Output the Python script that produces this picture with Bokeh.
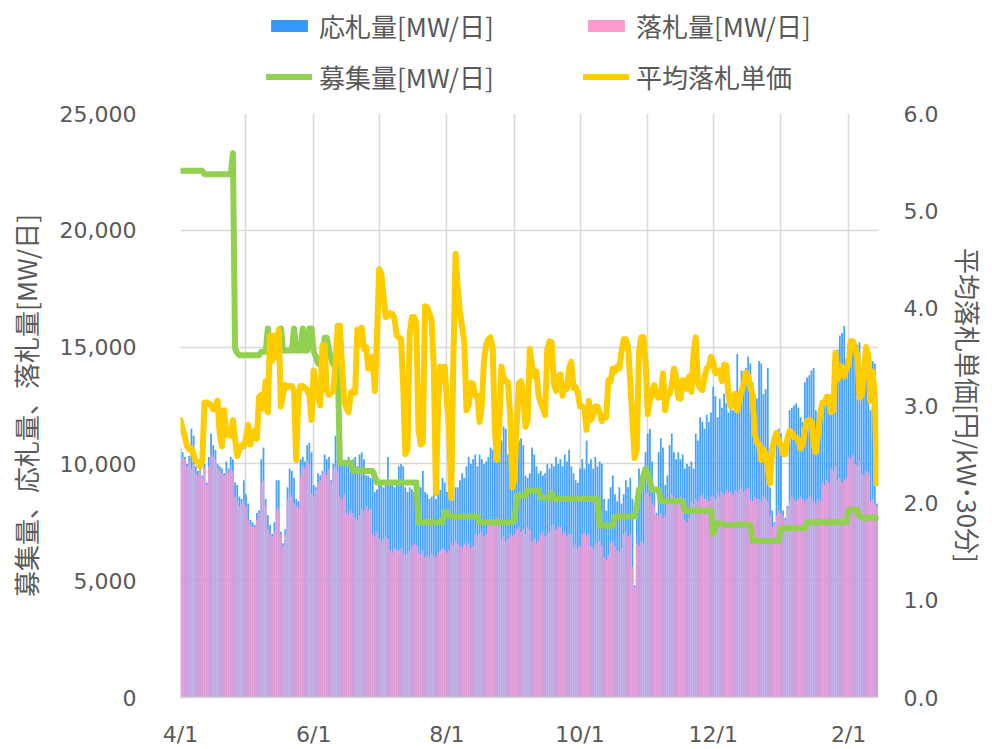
import pandas as pd
from bokeh.plotting import figure
from bokeh.layouts import column
from bokeh.models import (Range1d, LinearAxis, FixedTicker, NumeralTickFormatter,
                          Legend, LegendItem, ColumnDataSource)
from bokeh.embed import file_html
from bokeh.resources import INLINE

# ---------------- data (daily, 4/1 .. 2/14) ----------------
start_date = "2024-04-01"

bid_mw = [  # 応札量[MW/日]
    10650, 10500, 10300, 10000, 10350, 11500, 11200, 9900, 9700, 9800,
    9500, 10000, 9200, 10300, 11300, 10800, 10600, 10000, 9900, 9800,
    9600, 10100, 9800, 10300, 10200, 9200, 9100, 8600, 8500, 9300,
    8700, 8300, 7600, 7500, 7400, 7900, 8000, 10200, 10700, 8500,
    7800, 7400, 7000, 7500, 9300, 9300, 7100, 6600, 7200, 9000,
    9800, 9700, 9400, 8500, 8400, 10200, 10300, 10100, 10800, 10900,
    10500, 9100, 9000, 9600, 9500, 9700, 10400, 10200, 10300, 9300,
    10000, 11200, 11100, 10200, 10100, 10000, 10100, 10300, 10100, 10200,
    10300, 9900, 10400, 10500, 10200, 9500, 9500, 9400, 9500, 8800,
    8900, 9100, 9100, 9000, 9100, 10300, 9200, 9100, 9000, 9100,
    9900, 10000, 9900, 9000, 8800, 9000, 8900, 8800, 9000, 9100,
    9000, 9700, 8800, 8700, 8500, 8600, 8800, 8500, 8800, 8900,
    9400, 9200, 8800, 9000, 8500, 8700, 9000, 9000, 9300, 9600,
    9400, 9900, 10300, 10000, 10200, 10400, 9900, 10400, 10200, 10000,
    10100, 10300, 10700, 10600, 10600, 11000, 10800, 11000, 11600, 11500,
    10400, 9900, 9500, 10000, 9600, 11000, 11100, 10800, 9500, 9400,
    9600, 10700, 10400, 9900, 9600, 9700, 9500, 9600, 10000, 9800,
    10000, 9900, 10300, 10000, 10200, 9900, 10400, 10100, 10600, 9900,
    9600, 9300, 9200, 9800, 10200, 9800, 11000, 10000, 10200, 9800,
    10300, 9900, 10100, 10000, 8500, 8000, 8500, 9000, 9500, 8700,
    8400, 9000, 8300, 8700, 9300, 9000, 9400, 8500, 4800, 8200,
    9800, 9500, 9700, 10500, 11300, 11500, 10100, 9000, 7900, 10500,
    11100, 10700, 9100, 9500, 10800, 11300, 10500, 10200, 10500, 10200,
    10400, 9800, 10000, 9900, 10100, 9800, 11300, 11000, 12000, 11800,
    11500, 12100, 11800, 12200, 13300, 12900, 12000, 12800, 12400, 13000,
    12600, 12200, 12800, 12300, 12700, 14700, 13000, 14000, 13800, 14100,
    14600, 14300, 13500, 13000, 12800, 14400, 14300, 13000, 13200, 14100,
    9000, 8000, 7500, 11000, 11500, 11300, 8000, 7700, 8200, 12300,
    12400, 12500, 12600, 12400, 12000, 11800, 13500, 13700, 13800, 14000,
    14100, 12300, 12100, 12400, 12500, 12500, 12600, 12900, 12800, 13000,
    14700, 14900, 15500, 15600, 15900, 14500, 15200, 15300, 15000, 15200,
    15100, 15200, 14000, 13800, 14200, 12800, 12300, 14400, 14300, 8300,
]

award_mw = [  # 落札量[MW/日]
    10300, 10250, 10200, 9900, 10100, 9800, 10000, 9600, 9500, 9700,
    9400, 9800, 9100, 9900, 10400, 10300, 10200, 9800, 9700, 9600,
    9500, 9700, 9600, 9800, 9700, 8600, 8400, 8200, 8300, 8400,
    8200, 7600, 7400, 7300, 7300, 7600, 7900, 9200, 9300, 8200,
    7200, 7000, 6900, 7100, 8000, 8100, 7000, 6500, 7000, 8500,
    8700, 8600, 8300, 8200, 8100, 9500, 9900, 9800, 10100, 10000,
    8700, 8600, 8900, 9200, 9300, 9600, 9700, 9500, 9800, 9200,
    9800, 9900, 9700, 8600, 8500, 8700, 7900, 7800, 8000, 7900,
    7700, 7600, 7800, 8100, 8000, 8200, 8000, 8100, 7000, 6900,
    7100, 6800, 6700, 6800, 6900, 6800, 6300, 6200, 6400, 6300,
    6300, 6400, 6200, 6100, 6200, 6300, 6500, 6600, 6500, 6200,
    6100, 6300, 6000, 6100, 6000, 6200, 6100, 6000, 6200, 6300,
    6400, 6300, 6200, 6300, 6600, 6500, 6700, 6600, 6500, 6400,
    6600, 6500, 6600, 6400, 6500, 7000, 6900, 7000, 7100, 6900,
    7000, 7500, 7400, 7600, 7500, 7700, 7400, 6800, 6900, 6700,
    6800, 7000, 6900, 7000, 7200, 7300, 7100, 7200, 7000, 7300,
    7200, 6700, 6800, 6600, 6700, 7000, 7100, 6900, 7000, 7100,
    7300, 7400, 7200, 7300, 7300, 7000, 7100, 6900, 7000, 7000,
    6500, 6600, 6400, 6500, 7000, 7100, 6900, 7000, 6500, 6400,
    6600, 6600, 6700, 6500, 6000, 5900, 6100, 6600, 6700, 6500,
    6300, 6200, 6400, 7000, 7100, 6900, 7000, 5600, 4700, 6600,
    6500, 6700, 6600, 8700, 8800, 8600, 8300, 8200, 7800, 7800,
    7900, 7700, 7800, 8600, 8500, 8700, 8600, 8500, 8400, 8600,
    8500, 7600, 7500, 7700, 8400, 8300, 8500, 8400, 8600, 8700,
    8500, 8500, 8400, 8600, 8600, 8500, 8700, 8600, 8800, 8700,
    8900, 8800, 8800, 8700, 8900, 8800, 8900, 9000, 8800, 8900,
    9000, 8500, 8400, 8600, 8500, 8500, 8400, 8600, 8500, 8400,
    7800, 7300, 7400, 7800, 8000, 7900, 7800, 7600, 8100, 8400,
    8600, 8500, 8400, 8500, 8600, 8500, 8400, 8500, 8600, 8500,
    8400, 8300, 8500, 8400, 9200, 9100, 9300, 9200, 9800, 9700,
    9900, 9300, 9400, 9200, 9300, 9400, 10300, 10200, 10400, 10000,
    9900, 10100, 9600, 9500, 9700, 9600, 8400, 8500, 8300, 8200,
]

recruit_mw = (  # 募集量[MW/日] (step series, value x number of days)
    [22550] * 11 + [22400] * 13 + [23300] + [14950] + [14750] + [14650] * 10
    + [14800] * 3 + [15800] + [14850] * 5 + [15800] + [14850] * 5 + [15800]
    + [14850] * 3 + [15800] + [14850] * 2 + [15800] * 2
    + [14800, 14600, 14300, 14250, 14300, 15400, 15400, 14900, 14500]
    + [14250] * 3 + [10050] * 6 + [9700] * 10 + [9450] + [9200] * 19
    + [7500] * 12 + [7950] * 2 + [7750] * 14 + [7500] * 16 + [7600]
    + [8650] * 5 + [8850] * 6 + [8550] * 5 + [8750] + [8500] * 21
    + [7350] * 7 + [7750] * 10
    + [8200, 8900, 9000, 9500, 9800, 9600, 9300]
    + [8900] * 4 + [8400] * 11 + [8000] * 13 + [7000] + [7300] + [7450] * 3
    + [7380] * 13 + [6700] * 13 + [7250] * 12 + [7500] * 19 + [8030] * 5
    + [7750] + [7700] * 8
)

price_yen = [  # 平均落札単価[円/kW・30分]
    2.85, 2.76, 2.68, 2.58, 2.55, 2.56, 2.50, 2.43, 2.42, 2.37,
    2.44, 3.03, 3.03, 3.02, 3.00, 2.96, 3.00, 3.05, 2.70, 2.58,
    2.95, 2.70, 2.71, 2.69, 2.85, 2.65, 2.48, 2.55, 2.59, 2.58,
    2.67, 2.80, 2.60, 2.69, 2.74, 2.66, 3.09, 3.11, 2.97, 3.25,
    2.93, 3.72, 3.46, 3.72, 3.50, 3.78, 2.99, 3.12, 3.21, 3.19,
    3.20, 3.20, 3.15, 2.44, 3.10, 3.20, 3.20, 3.18, 3.16, 3.10,
    2.85, 3.36, 3.18, 3.10, 3.00, 3.62, 3.62, 3.15, 3.11, 3.13,
    3.15, 3.42, 3.82, 3.82, 3.40, 3.05, 2.97, 2.93, 3.13, 3.15,
    3.13, 3.78, 3.62, 3.80, 3.58, 3.60, 3.38, 3.38, 3.50, 3.15,
    3.70, 4.40, 4.35, 4.12, 3.91, 3.92, 3.95, 3.94, 3.90, 3.72,
    3.70, 3.68, 3.20, 2.50, 2.55, 3.75, 3.91, 3.91, 3.85, 2.75,
    2.60, 2.62, 4.02, 4.01, 3.95, 3.87, 3.40, 2.10, 3.00, 3.40,
    3.27, 3.40, 3.05, 2.75, 2.05, 3.50, 4.56, 4.20, 3.95, 3.81,
    3.65, 2.95, 3.00, 3.23, 3.22, 3.10, 3.10, 2.83, 3.00, 3.46,
    3.62, 3.68, 3.70, 3.58, 2.75, 2.44, 2.80, 3.40, 3.28, 3.25,
    3.24, 2.90, 2.16, 2.25, 2.80, 3.23, 3.25, 3.10, 2.78, 2.85,
    3.58, 3.40, 3.30, 3.35, 3.10, 3.03, 2.97, 2.90, 3.58, 3.66,
    3.65, 3.23, 3.15, 3.30, 3.32, 3.10, 3.21, 3.17, 3.38, 3.45,
    3.18, 3.19, 3.13, 2.99, 2.99, 2.97, 2.75, 3.05, 2.85, 2.90,
    2.99, 2.99, 2.92, 2.84, 2.88, 2.88, 3.26, 3.25, 3.38, 3.35,
    3.40, 3.38, 3.56, 3.68, 3.68, 3.60, 3.25, 2.85, 2.46, 2.55,
    3.55, 3.70, 3.70, 3.45, 2.91, 3.05, 3.15, 3.21, 3.10, 3.08,
    3.10, 3.33, 2.95, 3.10, 3.12, 3.20, 3.38, 3.30, 3.08, 3.07,
    3.26, 3.26, 3.17, 3.30, 3.14, 3.55, 3.70, 3.23, 3.18, 3.16,
    3.28, 3.38, 3.40, 3.50, 3.45, 3.33, 3.35, 3.36, 3.25, 3.42,
    3.41, 3.10, 2.99, 3.09, 3.12, 2.95, 3.05, 3.15, 3.23, 3.34,
    3.30, 3.20, 3.11, 2.72, 2.62, 2.60, 2.44, 2.55, 2.50, 2.36,
    2.20, 2.55, 2.66, 2.72, 2.62, 2.60, 2.50, 2.50, 2.67, 2.74,
    2.72, 2.67, 2.67, 2.65, 2.56, 2.60, 2.75, 2.84, 2.85, 2.83,
    2.60, 2.52, 2.70, 2.92, 3.03, 3.03, 3.09, 3.09, 2.93, 2.95,
    3.54, 3.27, 3.40, 3.40, 3.30, 3.38, 3.42, 3.66, 3.66, 3.58,
    3.52, 3.08, 3.10, 3.35, 3.60, 3.52, 3.05, 3.35, 3.10, 2.20,
]

x_tick_labels = ["4/1", "6/1", "8/1", "10/1", "12/1", "2/1"]
left_ticks = [0, 5000, 10000, 15000, 20000, 25000]
right_ticks = [0, 1, 2, 3, 4, 5, 6]

series_names = ["応札量[MW/日]", "落札量[MW/日]", "募集量[MW/日]", "平均落札単価"]
left_title = "募集量、応札量、落札量[MW/日]"
right_title = "平均落札単価[円/kW･30分]"

# ---------------- derived ----------------
start = pd.Timestamp(start_date)
dates = pd.date_range(start, periods=len(bid_mw), freq="D")
day = [(d - start).days for d in dates]
src = ColumnDataSource(dict(day=day, bid=bid_mw, award=award_mw,
                            recruit=recruit_mw, price=price_yen))

month_starts = pd.date_range(start, dates[-1], freq="MS")
grid_days = [(m - start).days for m in month_starts]
label_days = {}
for m in month_starts:
    lab = f"{m.month}/{m.day}"
    if lab in x_tick_labels:
        label_days[(m - start).days] = lab

TXT = "#595959"
GRID = "#D9D9D9"
CJK = "Noto Sans CJK JP"
NUM = "DejaVu Sans"
BLUE, PINK, GREEN, YELLOW = "#3399FF", "#FF99CC", "#92D050", "#FFCC00"
LW = 6

W = 992
LEG_H = 100

# ---------------- legend strip (frame is aligned with the chart frame) ----------------
lf = figure(width=W, height=LEG_H, output_backend="svg", toolbar_location=None,
            x_range=Range1d(0, 1), y_range=Range1d(0, 1),
            x_axis_location=None, y_axis_location=None,
            min_border_left=180, min_border_right=114,
            min_border_top=0, min_border_bottom=0)
lf.outline_line_color = None
lf.grid.grid_line_color = None
lf.background_fill_color = "white"
lf.border_fill_color = "white"

# off-range dummy renderers: they only supply the legend swatches
sw_bid = lf.vbar(x=[-10], top=[-10], width=0.1, fill_color=BLUE, line_color=None)
sw_awd = lf.vbar(x=[-10], top=[-10], width=0.1, fill_color=PINK, line_color=None)
sw_rec = lf.line(x=[-10, -9], y=[-10, -10], line_color=GREEN, line_width=LW,
                 line_cap="round")
sw_pri = lf.line(x=[-10, -9], y=[-10, -10], line_color=YELLOW, line_width=LW,
                 line_cap="round")


def add_leg(renderer, label, loc):
    lg = Legend(items=[LegendItem(label=label, renderers=[renderer])],
                location=loc, orientation="horizontal",
                glyph_width=46, glyph_height=15, label_standoff=7,
                padding=0, margin=0, spacing=0,
                border_line_color=None, background_fill_alpha=0,
                label_text_font=CJK, label_text_font_size="26px",
                label_text_color=TXT)
    lf.add_layout(lg, "center")


# locations are pixels from the frame's bottom-left corner
add_leg(sw_bid, series_names[0], (86, 56))
add_leg(sw_awd, series_names[1], (403, 56))
add_leg(sw_rec, series_names[2], (86, 5))
add_leg(sw_pri, series_names[3], (403, 5))

# ---------------- main chart ----------------
p = figure(width=W, height=749 - LEG_H, output_backend="svg", toolbar_location=None,
           x_range=Range1d(0, day[-1] + 0.7), y_range=Range1d(0, 25000),
           min_border_left=180, min_border_right=114,
           min_border_top=13, min_border_bottom=52)
p.outline_line_color = None
p.background_fill_color = "white"
p.border_fill_color = "white"

p.vbar(x="day", top="bid", width=0.82, source=src, fill_color=BLUE,
       fill_alpha=0.9, line_color=None)
p.vbar(x="day", top="award", width=0.82, source=src, fill_color=PINK,
       fill_alpha=0.8, line_color=None)

p.extra_y_ranges = {"price": Range1d(0, 6)}
p.line(x="day", y="recruit", source=src, line_color=GREEN,
       line_width=LW, line_join="round", line_cap="round")
p.line(x="day", y="price", source=src, y_range_name="price",
       line_color=YELLOW, line_width=LW, line_join="round", line_cap="round")

xa = p.xaxis[0]
xa.ticker = FixedTicker(ticks=list(label_days.keys()))
xa.major_label_overrides = label_days
xa.axis_line_color = GRID
xa.axis_line_width = 1.5
xa.major_tick_line_color = None
xa.minor_tick_line_color = None
xa.major_label_standoff = 18
xa.major_label_text_font = NUM
xa.major_label_text_font_size = "22px"
xa.major_label_text_color = TXT

ya = p.yaxis[0]
ya.ticker = FixedTicker(ticks=left_ticks)
ya.formatter = NumeralTickFormatter(format="0,0")
ya.axis_line_color = None
ya.major_tick_line_color = None
ya.minor_tick_line_color = None
ya.major_label_standoff = 38
ya.major_label_text_font = NUM
ya.major_label_text_font_size = "22px"
ya.major_label_text_color = TXT
ya.axis_label = left_title
ya.axis_label_text_font = CJK
ya.axis_label_text_font_size = "26px"
ya.axis_label_text_font_style = "normal"
ya.axis_label_text_color = TXT
ya.axis_label_standoff = 13

ra = LinearAxis(y_range_name="price", ticker=FixedTicker(ticks=right_ticks),
                formatter=NumeralTickFormatter(format="0.0"))
ra.axis_line_color = None
ra.major_tick_line_color = None
ra.minor_tick_line_color = None
ra.major_label_standoff = 19
ra.major_label_text_font = NUM
ra.major_label_text_font_size = "22px"
ra.major_label_text_color = TXT
ra.axis_label = right_title
ra.axis_label_text_font = CJK
ra.axis_label_text_font_size = "26px"
ra.axis_label_text_font_style = "normal"
ra.axis_label_text_color = TXT
ra.axis_label_standoff = 9
p.add_layout(ra, "right")

p.xgrid.ticker = FixedTicker(ticks=grid_days)
p.xgrid.grid_line_color = GRID
p.xgrid.grid_line_width = 1.5
p.ygrid.ticker = FixedTicker(ticks=left_ticks)
p.ygrid.grid_line_color = GRID
p.ygrid.grid_line_width = 1.5

layout = column(lf, p, spacing=0)
open("out.html", "w").write(file_html(layout, INLINE))
